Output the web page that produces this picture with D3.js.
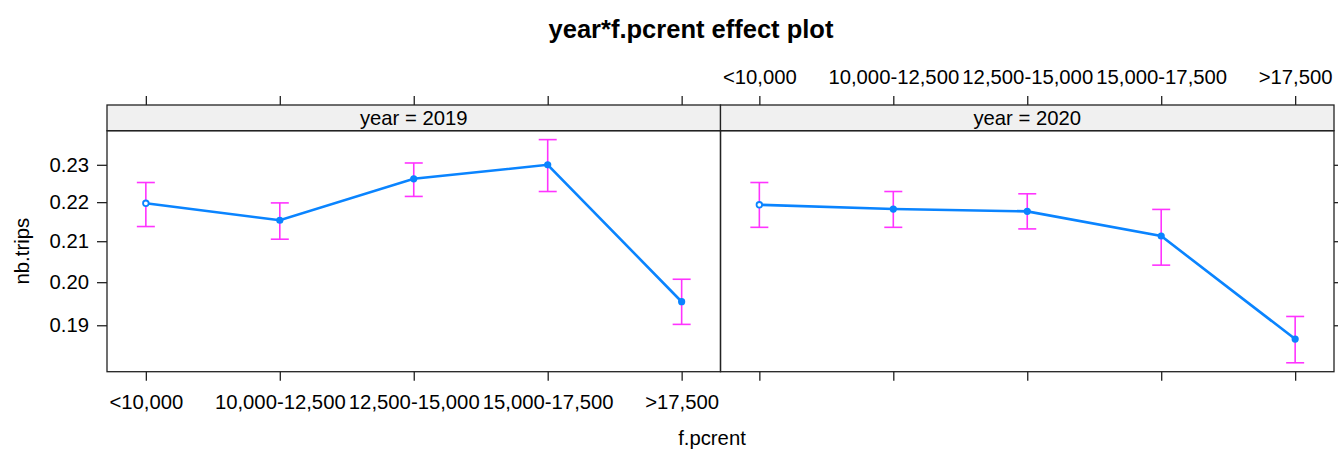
<!DOCTYPE html>
<html>
<head>
<meta charset="utf-8">
<script src="https://cdn.jsdelivr.net/npm/d3@7"></script>
<style>
  body { margin: 0; background: #fff; }
  text { font-family: "Liberation Sans", Arial, sans-serif; fill: #000; }
</style>
</head>
<body>
<script>
// values (response scale, drawn on a log axis)
var years = ["2019", "2020"];
var categories = ["<10,000", "10,000-12,500", "12,500-15,000", "15,000-17,500", ">17,500"];
var fit2019 = [0.2197, 0.2153, 0.2262, 0.2300, 0.1954];
var lower2019 = [0.2137, 0.2105, 0.2215, 0.2228, 0.1902];
var upper2019 = [0.2252, 0.2198, 0.2305, 0.2370, 0.2007];
var fit2020 = [0.2193, 0.2182, 0.2176, 0.2113, 0.1869];
var lower2020 = [0.2135, 0.2135, 0.2131, 0.2041, 0.1817];
var upper2020 = [0.2252, 0.2228, 0.2222, 0.2181, 0.1920];
var yTicks = [0.19, 0.20, 0.21, 0.22, 0.23];

var fits = [fit2019, fit2020];
var lowers = [lower2019, lower2020];
var uppers = [upper2019, upper2020];

window.onload = function () {
    var W = 1338, H = 449;
    var left = 107, panelW = 613.5;
    var stripTop = 105, stripH = 25.7, bottom = 371.7;
    var plotTop = stripTop + stripH;
    var fs = "20.3px";

    var svg = d3.select("body").append("svg")
        .attr("width", W)
        .attr("height", H);

    // y limits: range of the intervals on the log scale, padded 4% like lattice
    var lo = Math.log(d3.min(lowers.flat())), hi = Math.log(d3.max(uppers.flat()));
    var pad = (hi - lo) * 0.04;
    var y = d3.scaleLog()
        .domain([Math.exp(lo - pad), Math.exp(hi + pad)])
        .range([bottom, plotTop]);

    svg.append("text")
        .attr("x", 691).attr("y", 38)
        .attr("text-anchor", "middle")
        .style("font-weight", "bold")
        .style("font-size", "25.5px")
        .text("year*f.pcrent effect plot");

    svg.append("text")
        .attr("transform", "translate(29," + ((plotTop + bottom) / 2) + ") rotate(-90)")
        .attr("text-anchor", "middle")
        .style("font-size", fs)
        .text("nb.trips");

    svg.append("text")
        .attr("x", 712).attr("y", 445)
        .attr("text-anchor", "middle")
        .style("font-size", fs)
        .text("f.pcrent");

    years.forEach(function (yr, i) {
        var x0 = left + i * panelW;
        var x = d3.scalePoint()
            .domain(categories)
            .range([x0, x0 + panelW])
            .padding(0.29);

        var g = svg.append("g");

        // strip
        g.append("rect")
            .attr("x", x0).attr("y", stripTop)
            .attr("width", panelW).attr("height", stripH)
            .attr("fill", "#f0f0f0")
            .attr("stroke", "#222").attr("stroke-width", 1.3);
        g.append("text")
            .attr("x", x0 + panelW / 2).attr("y", stripTop + stripH / 2 + 7.5)
            .attr("text-anchor", "middle")
            .style("font-size", fs)
            .text("year = " + yr);

        // panel frame
        g.append("rect")
            .attr("x", x0).attr("y", plotTop)
            .attr("width", panelW).attr("height", bottom - plotTop)
            .attr("fill", "none")
            .attr("stroke", "#222").attr("stroke-width", 1.3);

        // axes: labels alternate like lattice (bottom/left on panel 1, top/right on panel 2)
        var bottomAxis = d3.axisBottom(x).tickSize(9).tickPadding(14);
        var topAxis = d3.axisTop(x).tickSize(9).tickPadding(12);
        if (i === 1) bottomAxis.tickFormat("");
        if (i === 0) topAxis.tickFormat("");
        var gb = g.append("g").attr("transform", "translate(0," + bottom + ")").call(bottomAxis);
        var gt = g.append("g").attr("transform", "translate(0," + stripTop + ")").call(topAxis);

        var yAxis = i === 0
            ? d3.axisLeft(y).tickValues(yTicks).tickFormat(d3.format(".2f")).tickSize(10).tickPadding(8)
            : d3.axisRight(y).tickValues(yTicks).tickFormat("").tickSize(10);
        var gy = g.append("g")
            .attr("transform", "translate(" + (i === 0 ? x0 : x0 + panelW) + ",0)")
            .call(yAxis);

        [gb, gt, gy].forEach(function (a) {
            a.select(".domain").remove();
            a.selectAll(".tick line").attr("stroke", "#222").attr("stroke-width", 1.3);
            a.selectAll(".tick text")
                .style("font-size", fs)
                .style("font-family", "'Liberation Sans', Arial, sans-serif")
                .attr("fill", "#000");
        });

        var rows = categories.map(function (c, j) {
            return { cat: c, fit: fits[i][j], lo: lowers[i][j], hi: uppers[i][j] };
        });

        // confidence bars
        var bars = g.append("g").attr("stroke", "#ff33ff").attr("stroke-width", 1.6).attr("fill", "none");
        bars.selectAll("line.v").data(rows).join("line")
            .attr("x1", function (d) { return x(d.cat); })
            .attr("x2", function (d) { return x(d.cat); })
            .attr("y1", function (d) { return y(d.lo); })
            .attr("y2", function (d) { return y(d.hi); });
        bars.selectAll("line.top").data(rows).join("line")
            .attr("x1", function (d) { return x(d.cat) - 9; })
            .attr("x2", function (d) { return x(d.cat) + 9; })
            .attr("y1", function (d) { return y(d.hi); })
            .attr("y2", function (d) { return y(d.hi); });
        bars.selectAll("line.bot").data(rows).join("line")
            .attr("x1", function (d) { return x(d.cat) - 9; })
            .attr("x2", function (d) { return x(d.cat) + 9; })
            .attr("y1", function (d) { return y(d.lo); })
            .attr("y2", function (d) { return y(d.lo); });

        // fitted line and points
        var line = d3.line()
            .x(function (d) { return x(d.cat); })
            .y(function (d) { return y(d.fit); });
        g.append("path")
            .datum(rows)
            .attr("d", line)
            .attr("fill", "none")
            .attr("stroke", "#0a84ff")
            .attr("stroke-width", 2.6);
        g.selectAll("circle").data(rows).join("circle")
            .attr("cx", function (d) { return x(d.cat); })
            .attr("cy", function (d) { return y(d.fit); })
            .attr("r", function (d, j) { return j === 0 ? 2.8 : 3.6; })
            .attr("fill", function (d, j) { return j === 0 ? "#fff" : "#0a84ff"; })
            .attr("stroke", "#0a84ff")
            .attr("stroke-width", function (d, j) { return j === 0 ? 1.8 : 0; });
    });
};
</script>
</body>
</html>
